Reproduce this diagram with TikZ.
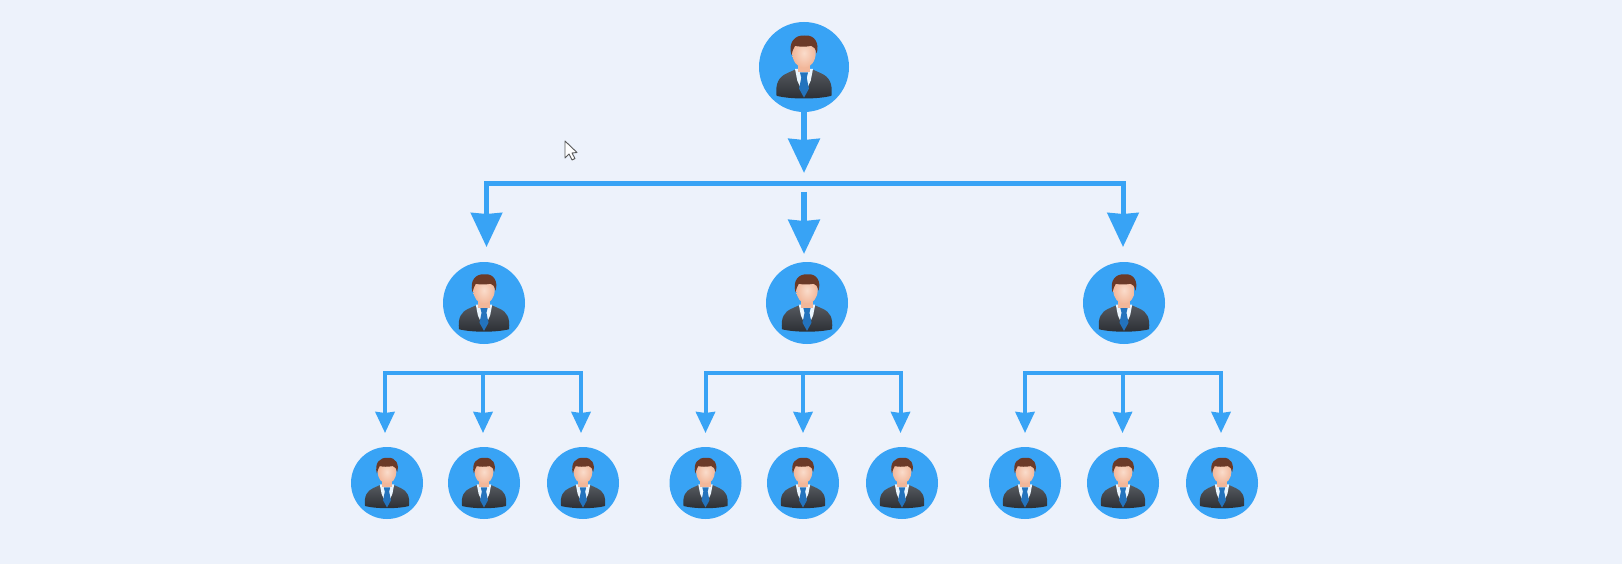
\documentclass[tikz,border=0pt]{standalone}
\usetikzlibrary{arrows.meta}
\definecolor{bgc}{HTML}{EDF2FB}
\definecolor{bluec}{HTML}{38A3F5}
\definecolor{suitc}{HTML}{2B2E33}
\definecolor{suitl}{HTML}{565A60}
\definecolor{hairc}{HTML}{6B3A28}
\definecolor{skinc}{HTML}{F2B79A}
\definecolor{skinl}{HTML}{FADCCB}
\definecolor{tiec}{HTML}{2373BD}
\tikzset{
  x=1pt,y=-1pt,
  disc/.style={circle,fill=bluec,inner sep=0pt,outer sep=0pt},
  discA/.style={disc,minimum size=90pt},
  discB/.style={disc,minimum size=82pt},
  discC/.style={disc,minimum size=72pt},
  barA/.style={draw=bluec,line width=5pt,line cap=rect},
  barC/.style={draw=bluec,line width=4pt,line cap=rect},
  arrowA/.style={draw=bluec,line width=6pt,-{Stealth[length=34pt,width=31pt,inset=1pt]}},
  arrowB/.style={draw=bluec,line width=5pt,-{Stealth[length=34pt,width=31pt,inset=1pt]}},
  arrowC/.style={draw=bluec,line width=4pt,-{Stealth[length=21pt,width=19pt,inset=1pt]}},
  person/.pic={
    \begin{scope}[scale=#1]
      % suit
      \shade[top color=suitl,bottom color=suitc]
        (-.61,.64) .. controls (-.64,.36) and (-.56,.22) .. (-.38,.14)
        -- (-.18,.05) -- (.18,.05) -- (.38,.14)
        .. controls (.56,.22) and (.64,.36) .. (.61,.64)
        .. controls (.30,.72) and (-.30,.72) .. (-.61,.64) -- cycle;
      % shirt
      \fill[white!90!bluec] (-.20,.04) -- (.20,.04) -- (.15,.30) -- (0,.64) -- (-.15,.30) -- cycle;
      % tie
      \fill[tiec] (-.09,.12) -- (.09,.12) -- (.06,.24) -- (.11,.48) -- (0,.68) -- (-.11,.48) -- (-.06,.24) -- cycle;
      % neck and head
      \fill[skinc] (-.14,-.12) rectangle (.14,.11);
      \shade[inner color=skinl,outer color=skinc] (0,-.31) ellipse [x radius=.26,y radius=.33];
      % hair
      \fill[hairc] (-.28,-.26) .. controls (-.36,-.55) and (-.20,-.72) .. (.02,-.70)
        .. controls (.24,-.72) and (.35,-.52) .. (.28,-.30)
        .. controls (.26,-.40) and (.22,-.46) .. (.16,-.47)
        .. controls (.02,-.44) and (-.12,-.45) .. (-.20,-.47)
        .. controls (-.24,-.42) and (-.26,-.34) .. (-.28,-.26) -- cycle;
    \end{scope}
  }
}
\begin{document}
\begin{tikzpicture}
\path[use as bounding box,fill=bgc] (0,0) rectangle (1622,564);
% nodes
\node[discA] (top) at (804,67) {};
\node[discB] (b1) at (484,303) {};
\node[discB] (b2) at (807,303) {};
\node[discB] (b3) at (1124,303) {};
\foreach \n/\x in {c1/387,c2/484,c3/583,c4/705.5,c5/803,c6/902,c7/1025,c8/1123,c9/1222}{
  \node[discC] (\n) at (\x,483) {};
}
\pic at (top) {person=45};
\foreach \n in {b1,b2,b3}{\pic at (\n) {person=41};}
\foreach \n in {c1,c2,c3,c4,c5,c6,c7,c8,c9}{\pic at (\n) {person=36};}
% coordinates
\coordinate (topTip) at (804,173);
\coordinate (barL) at (486.5,184);
\coordinate (barR) at (1123,184);
\coordinate (tipL) at (486.5,247);
\coordinate (tipR) at (1123,247);
\coordinate (midS) at (804,192);
\coordinate (midT) at (804,254);
% top level
\draw[arrowA] (top) -- (topTip);
\draw[barA] (barL) -- (barR);
\draw[arrowB] (barL) -- (tipL);
\draw[arrowB] (barR) -- (tipR);
\draw[arrowA] (midS) -- (midT);
% lower groups
\foreach \g/\xa/\xb/\xc/\ca/\cb/\cc in {1/385/483/581/c1/c2/c3,2/705.5/803/900.5/c4/c5/c6,3/1025/1122.5/1221/c7/c8/c9}{
  \coordinate (j\g a) at (\xa,373);
  \coordinate (j\g b) at (\xb,373);
  \coordinate (j\g c) at (\xc,373);
  \coordinate (t\g a) at (\xa,433);
  \coordinate (t\g b) at (\xb,433);
  \coordinate (t\g c) at (\xc,433);
  \draw[barC] (j\g a) -- (j\g c);
  \draw[arrowC] (j\g a) -- (t\g a);
  \draw[arrowC] (j\g b) -- (t\g b);
  \draw[arrowC] (j\g c) -- (t\g c);
}
% cursor
\draw[draw=black!65,fill=white,line width=.9pt,line join=round]
  (565,141) -- (565,158) -- (569,154) -- (572,160) -- (575,158.5) -- (572,153) -- (577,152.5) -- cycle;
\end{tikzpicture}
\end{document}
